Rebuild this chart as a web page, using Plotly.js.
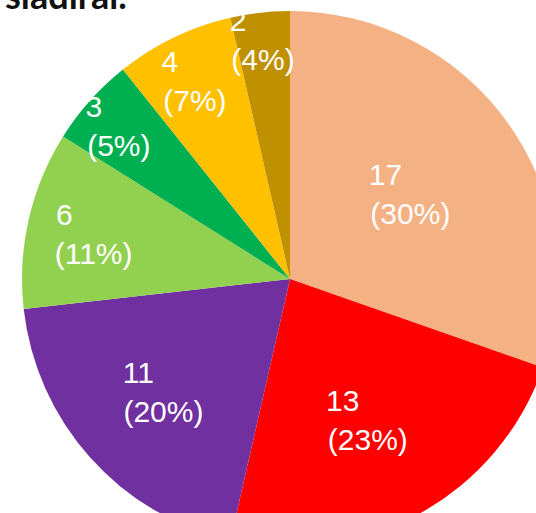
<!DOCTYPE html>
<html>
<head>
<meta charset="utf-8">
<script src="https://cdn.plot.ly/plotly-3.0.1.min.js"></script>
<style>
  html, body { margin: 0; padding: 0; width: 536px; height: 513px; overflow: hidden; background: #fff; }
  #chart { position: absolute; left: 0; top: -11px; width: 580px; height: 580px; }
</style>
</head>
<body>
<div id="chart"></div>
<script>
const titleText = "siadiral.";
const values = [17, 13, 11, 6, 3, 4, 2];
const sliceNames = ["A", "B", "C", "D", "E", "F", "G"];
const colors = ["#F4B183", "#FF0000", "#7030A0", "#92D050", "#00B050", "#FFC000", "#BF9000"];

const labelFontSize = 30;
const labelFont = labelFontSize + "px 'Liberation Sans', Arial, sans-serif";
const ctx = document.createElement("canvas").getContext("2d");
ctx.font = labelFont;
const total = values.reduce((a, b) => a + b, 0);
const nbspW = ctx.measureText("\u00a0").width;
const texts = values.map(v => {
  const l1 = String(v);
  const l2 = "(" + Math.round(v / total * 100) + "%)";
  const diff = ctx.measureText(l2).width - ctx.measureText(l1).width;
  const n = Math.max(0, Math.round(diff / nbspW));
  return l1 + "\u00a0".repeat(n) + "<br>" + l2;
});

const data = [{
  type: "pie",
  labels: sliceNames,
  values: values,
  text: texts,
  textinfo: "text",
  textposition: "inside",
  insidetextorientation: "horizontal",
  sort: false,
  direction: "clockwise",
  rotation: 0,
  marker: { colors: colors, line: { width: 0 } },
  textfont: { family: "'Liberation Sans', Arial, sans-serif", size: labelFontSize, color: "#ffffff" },
  hoverinfo: "none",
  domain: { x: [0, 1], y: [0, 1] }
}];

const layout = {
  width: 580,
  height: 580,
  margin: { l: 22, r: 22, t: 22, b: 22 },
  showlegend: false,
  paper_bgcolor: "#ffffff",
  uniformtext: { minsize: labelFontSize, mode: "show" },
  annotations: [{
    text: "<b>" + titleText + "</b>",
    xref: "paper", yref: "paper",
    x: -0.036, y: 1.0,
    xanchor: "left", yanchor: "bottom",
    yshift: -8,
    showarrow: false,
    font: { family: "Lato, 'DejaVu Sans', sans-serif", size: 36, color: "#111111" }
  }]
};

Plotly.newPlot("chart", data, layout, { staticPlot: true, displayModeBar: false });
</script>
</body>
</html>
